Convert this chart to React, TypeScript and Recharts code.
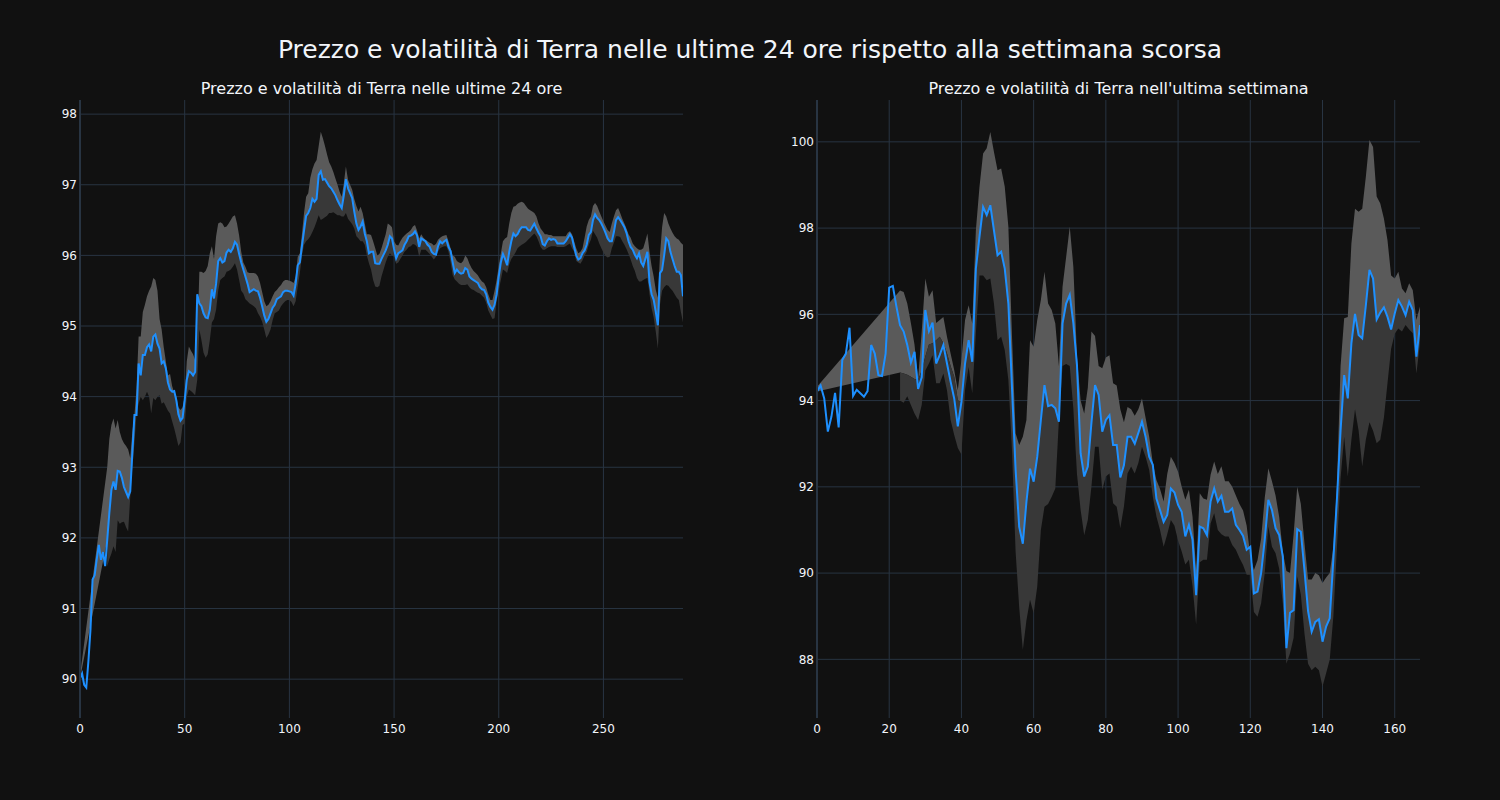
import { ComposedChart, Area, Line, XAxis, YAxis, CartesianGrid } from 'recharts'

// prezzo ogni 5 minuti, ultime 24 ore
const dayPrice = [
  90.01, 90.08, 89.92, 89.88, 90.25, 90.7, 91.41, 91.47, 91.7, 91.9,
  91.69, 91.8, 91.6, 91.97, 92.35, 92.68, 92.8, 92.68, 92.95, 92.94,
  92.85, 92.72, 92.65, 92.58, 92.66, 93.2, 93.74, 93.74, 94.47, 94.3,
  94.59, 94.59, 94.7, 94.74, 94.64, 94.85, 94.88, 94.75, 94.68, 94.47,
  94.5, 94.4, 94.2, 94.1, 94.07, 94.08, 93.95, 93.75, 93.66, 93.7,
  93.95, 94.24, 94.36, 94.34, 94.3, 94.35, 95.45, 95.32, 95.28, 95.18,
  95.12, 95.11, 95.23, 95.52, 95.39, 95.6, 95.92, 95.96, 95.9, 95.92,
  96.04, 96.08, 96.05, 96.1, 96.19, 96.15, 96.02, 95.9, 95.8, 95.7,
  95.6, 95.48, 95.5, 95.52, 95.5, 95.49, 95.4, 95.28, 95.15, 95.06,
  95.1, 95.18, 95.26, 95.3, 95.38, 95.4, 95.42, 95.48, 95.5, 95.5,
  95.49, 95.48, 95.43, 95.6, 95.86, 95.9, 96.13, 96.35, 96.56, 96.6,
  96.67, 96.8, 96.76, 96.8, 97.14, 97.19, 97.07, 97.08, 97.03, 96.98,
  96.95, 96.9, 96.85, 96.78, 96.72, 96.67, 96.85, 97.08, 96.95, 96.88,
  96.81, 96.62, 96.45, 96.36, 96.41, 96.48, 96.31, 96.2, 96.03, 96.05,
  96.05, 95.89, 95.88, 95.88, 95.95, 96.01, 96.07, 96.15, 96.27, 96.24,
  96.09, 95.96, 96.03, 96.05, 96.07, 96.15, 96.2, 96.27, 96.28, 96.3,
  96.34, 96.28, 96.12, 96.24, 96.22, 96.2, 96.15, 96.12, 96.05, 96.02,
  96.01, 96.13, 96.2, 96.17, 96.2, 96.22, 96.12, 96.06, 95.9, 95.75,
  95.8, 95.76, 95.74, 95.75, 95.82, 95.8, 95.7, 95.67, 95.65, 95.63,
  95.61, 95.55, 95.52, 95.51, 95.45, 95.33, 95.27, 95.23, 95.3, 95.45,
  95.7, 95.9, 96.02, 95.95, 95.86, 96.05, 96.2, 96.31, 96.27, 96.3,
  96.36, 96.4, 96.4, 96.4, 96.36, 96.35, 96.4, 96.45, 96.38, 96.32,
  96.27, 96.16, 96.14, 96.2, 96.24, 96.22, 96.23, 96.22, 96.17, 96.17,
  96.17, 96.17, 96.2, 96.25, 96.3, 96.25, 96.12, 96.0, 95.94, 95.96,
  96.03, 96.07, 96.15, 96.29, 96.33, 96.5, 96.58, 96.53, 96.5, 96.45,
  96.39, 96.32, 96.24, 96.2, 96.2, 96.33, 96.5, 96.54, 96.5, 96.45,
  96.4, 96.32, 96.2, 96.12, 96.08, 96.01, 95.96, 96.03, 95.9, 95.85,
  95.95, 96.05, 95.62, 95.45, 95.37, 95.2, 95.01, 95.75, 95.79, 96.0,
  96.24, 96.2, 96.05, 95.95, 95.85, 95.77, 95.77, 95.72, 95.42,
]

const dayUpper = [
  90.05, null, null, null, null, null, null, null, null, null, null, null, null,
  93.0, 93.4, 93.6, 93.69, 93.55, 93.67, 93.5,
  93.4, 93.34, 93.3, 93.25, 93.13, 93.5, 93.74, 94.12, 94.85, 94.85,
  95.2, 95.3, 95.42, 95.5, 95.56, 95.68, 95.65, 95.5, 95.1, 94.95,
  94.7, 94.5, 94.3, 94.32, 94.15, 94.05, 94.0, 93.85, 93.81, 93.85,
  94.0, 94.5, 94.71, 94.65, 94.6, 94.52, 94.76, 95.77, 95.77, 95.75,
  95.78, 95.85, 96.03, 96.13, 95.95, 96.27, 96.45, 96.47, 96.45, 96.4,
  96.41, 96.45, 96.5, 96.55, 96.57, 96.45, 96.28, 96.05, 95.9, 95.84,
  95.76, 95.75, 95.75, 95.75, 95.74, 95.7, 95.61, 95.48, 95.35, 95.28,
  95.3, 95.35, 95.42, 95.48, 95.51, 95.55, 95.58, 95.63, 95.65, 95.65,
  95.64, 95.63, 95.61, 95.7, 95.98, 96.03, 96.3, 96.6, 96.83, 96.88,
  97.1, 97.22, 97.3, 97.35, 97.55, 97.75, 97.66, 97.55, 97.43, 97.32,
  97.26, 97.18, 97.09, 97.0, 96.9, 96.83, 97.02, 97.26, 97.07, 97.0,
  96.93, 96.8, 96.7, 96.62, 96.69, 96.6, 96.45, 96.3, 96.3, 96.29,
  96.2, 96.1, 96.0, 96.02, 96.1, 96.2, 96.3, 96.45, 96.43, 96.4,
  96.2, 96.15, 96.14, 96.2, 96.25, 96.28, 96.31, 96.33, 96.36, 96.41,
  96.43, 96.35, 96.24, 96.3, 96.25, 96.22, 96.2, 96.18, 96.17, 96.14,
  96.16, 96.22, 96.25, 96.27, 96.28, 96.29, 96.2, 96.1, 96.0, 95.98,
  95.92, 95.9, 95.89, 95.92, 96.0, 95.96, 95.88, 95.82, 95.78, 95.75,
  95.72, 95.67, 95.63, 95.61, 95.55, 95.45, 95.37, 95.37, 95.5, 95.65,
  95.85, 96.03, 96.2, 96.24, 96.26, 96.45, 96.6, 96.69, 96.7, 96.73,
  96.75, 96.76, 96.74, 96.7, 96.66, 96.64, 96.62, 96.6, 96.55, 96.45,
  96.38, 96.34, 96.3, 96.3, 96.29, 96.29, 96.27, 96.27, 96.27, 96.27,
  96.27, 96.27, 96.27, 96.32, 96.34, 96.3, 96.2, 96.1, 96.03, 96.05,
  96.1, 96.25, 96.41, 96.5, 96.55, 96.7, 96.74, 96.7, 96.62, 96.55,
  96.48, 96.42, 96.36, 96.33, 96.45, 96.55, 96.64, 96.67, 96.6, 96.52,
  96.45, 96.38, 96.3, 96.25, 96.17, 96.13, 96.1, 96.08, 96.08, 96.1,
  96.2, 96.31, 96.05, 95.85, 95.7, 95.51, 95.4, 96.0, 96.4, 96.6,
  96.55, 96.45, 96.38, 96.32, 96.27, 96.24, 96.22, 96.18, 96.15,
]

const dayLower = [
  null, null, null, null, null, null, null, null, null, null, null, null, null,
  91.6, 91.7, 91.78, 91.88, 91.8, 92.25, 92.2,
  92.22, 92.23, 92.15, 92.09, 92.58, 93.0, 93.34, 93.76, 93.9, 94.0,
  93.95, 94.0, 94.07, 94.0, 93.76, 93.98, 93.95, 94.0, 94.02, 93.9,
  93.92, 93.86, 93.8, 93.76, 93.65, 93.55, 93.43, 93.3, 93.35, 93.6,
  93.62, 94.0, 94.1, 94.08, 94.05, 94.02, 94.24, 94.95, 94.8, 94.62,
  94.55, 94.6, 94.8, 95.05, 95.1, 95.23, 95.5, 95.65, 95.68, 95.7,
  95.77, 95.78, 95.8, 95.84, 95.89, 95.8, 95.65, 95.5, 95.46, 95.38,
  95.35, 95.32, 95.3, 95.28, 95.25, 95.18, 95.13, 95.06, 94.95, 94.83,
  94.88, 94.95, 95.08, 95.18, 95.2, 95.22, 95.28, 95.32, 95.35, 95.37,
  95.37, 95.34, 95.28, 95.35, 95.56, 95.75, 96.0, 96.15, 96.2, 96.23,
  96.27, 96.33, 96.4, 96.48, 96.57, 96.5, 96.52, 96.54, 96.56, 96.6,
  96.6, 96.61, 96.59, 96.57, 96.57, 96.55, 96.55, 96.6, 96.52, 96.48,
  96.44, 96.38, 96.27, 96.24, 96.2, 96.2, 96.15, 96.0, 95.89, 95.8,
  95.65, 95.56, 95.55, 95.57, 95.7, 95.8, 95.9, 95.98, 96.03, 96.0,
  95.98, 95.88, 95.9, 95.95, 96.0, 96.05, 96.08, 96.12, 96.13, 96.16,
  96.15, 96.12, 95.98, 96.08, 96.08, 96.08, 96.05, 96.02, 95.98, 95.94,
  95.98, 96.05, 96.1, 96.12, 96.13, 96.13, 96.05, 95.9, 95.72, 95.66,
  95.63, 95.6, 95.58, 95.58, 95.58, 95.59, 95.55, 95.52, 95.51, 95.49,
  95.47, 95.46, 95.43, 95.4, 95.33, 95.22, 95.16, 95.1, 95.11, 95.35,
  95.51, 95.65, 95.8, 95.78, 95.75, 95.87, 95.95, 95.99, 96.04, 96.1,
  96.13, 96.15, 96.17, 96.19, 96.22, 96.25, 96.28, 96.31, 96.27, 96.2,
  96.12, 96.08, 96.08, 96.1, 96.12, 96.13, 96.13, 96.13, 96.12, 96.12,
  96.12, 96.12, 96.13, 96.15, 96.17, 96.1, 96.05, 95.92, 95.9, 95.88,
  95.93, 96.0, 96.05, 96.15, 96.22, 96.35, 96.3, 96.25, 96.17, 96.1,
  96.04, 95.99, 95.97, 95.98, 96.1, 96.18, 96.27, 96.27, 96.26, 96.2,
  96.15, 96.09, 96.02, 95.94, 95.85, 95.78, 95.68, 95.63, 95.63, 95.65,
  95.67, 95.68, 95.45, 95.25, 95.12, 94.92, 94.68, 95.3, 95.5, 95.55,
  95.58, 95.57, 95.53, 95.5, 95.45, 95.4, 95.37, 95.2, 95.05,
]

// prezzo orario, ultima settimana
const weekPrice = [
  94.21, 94.35, 94.05, 93.28, 93.63, 94.18, 93.38, 94.94, 95.09, 95.69,
  94.11, 94.25, 94.17, 94.09, 94.22, 95.29, 95.09, 94.59, 94.57, 95.09,
  96.62, 96.66, 96.18, 95.75, 95.6, 95.29, 94.88, 95.13, 94.27, 94.54,
  96.1, 95.61, 95.81, 94.86, 95.06, 95.29, 94.86, 94.44, 94.05, 93.4,
  93.97, 94.86, 95.4, 94.9, 97.06, 97.8, 98.49, 98.3, 98.53, 97.95,
  97.37, 97.45, 97.06, 96.25, 94.3, 92.4, 91.07, 90.68, 91.65, 92.42,
  92.12, 92.7, 93.55, 94.36, 93.87, 93.9, 93.82, 93.51, 95.79, 96.25,
  96.45, 95.79, 94.82, 92.78, 92.24, 92.47, 93.48, 94.36, 94.13, 93.28,
  93.55, 93.66, 92.97, 92.97, 92.22, 92.5, 93.16, 93.16, 93.0, 93.25,
  93.51, 93.16, 92.7, 92.51, 91.73, 91.46, 91.19, 91.35, 91.96, 91.87,
  91.58, 91.42, 90.85, 91.12, 90.77, 89.49, 91.08, 91.04, 90.88, 91.66,
  91.96, 91.66, 91.79, 91.42, 91.42, 91.5, 91.12, 91.0, 90.86, 90.54,
  90.61, 89.53, 89.57, 90.0, 90.77, 91.7, 91.46, 91.04, 90.88, 90.38,
  88.26, 89.08, 89.14, 91.02, 90.96, 90.07, 89.12, 88.64, 88.87, 88.93,
  88.41, 88.76, 88.95, 90.31, 91.73, 93.3, 94.59, 94.05, 95.33, 96.01,
  95.52, 95.44, 96.21, 97.03, 96.83, 95.88, 96.04, 96.16, 95.94, 95.65,
  96.02, 96.33, 96.18, 95.98, 96.29, 96.1, 95.02, 95.75,
]

const weekUpper = [
  94.32, null, null, null, null, null, null, null, null, null, null,
  null, null, null, null, null, null, null, null, null, null, null, null,
  96.55, 96.52, 96.25, 95.8, 95.3, 94.5, 95.6,
  96.83, 96.41, 96.56, 95.8, 95.87, 95.94, 95.48, 95.09, 94.71, 94.24,
  94.94, 95.87, 96.21, 95.79, 97.95, 98.96, 99.73, 99.85, 100.23, 99.77,
  99.34, 99.38, 98.96, 98.03, 95.5, 93.24, 92.97, 93.16, 93.55, 95.4,
  95.25, 95.87, 96.33, 96.99, 96.25, 96.1, 95.79, 94.8, 96.64, 97.33,
  98.03, 97.1, 95.02, 94.0, 93.7, 94.3, 95.6, 95.5, 94.8, 94.75,
  95.0, 95.05, 94.4, 94.35, 93.8, 93.5, 93.85, 93.8, 93.65, 93.8,
  94.05, 93.6, 93.16, 92.55, 92.16, 91.95, 91.66, 92.3, 92.7, 92.55,
  92.35, 92.0, 91.7, 91.93, 91.31, 90.07, 91.85, 91.73, 91.7, 92.28,
  92.59, 92.3, 92.48, 92.13, 92.13, 92.0, 91.8, 91.6, 91.45, 91.1,
  90.4, 90.07, 90.3, 90.8, 91.75, 92.43, 92.13, 91.8, 91.3, 90.5,
  90.05, 90.0, 90.9, 92.0, 91.6, 90.7, 89.85, 89.85, 90.0, 89.95,
  89.77, 89.9, 90.0, 90.6, 92.0, 94.8, 95.91, 95.94, 97.64, 98.45,
  98.38, 98.45, 99.19, 100.04, 99.88, 98.73, 98.57, 98.22, 97.72, 96.9,
  96.83, 96.99, 96.6, 96.49, 96.72, 96.56, 95.87, 96.18,
]

const weekLower = [
  null, null, null, null, null, null, null, null, null, null, null, null,
  null, null, null, null, null, null, null, null, null, null, null,
  94.0, 93.95, 94.1, 93.9, 93.7, 93.55, 93.9,
  94.7, 94.86, 95.05, 94.4, 94.4, 94.63, 94.24, 93.55, 93.2, 92.9,
  92.75, 94.24, 94.78, 94.17, 95.56, 96.9, 96.9, 96.79, 96.83, 96.25,
  95.4, 95.48, 95.17, 94.48, 92.85, 90.5, 89.2, 88.22, 88.9, 89.38,
  89.07, 89.69, 91.0, 91.54, 91.6, 91.77, 91.96, 93.55, 94.8, 94.85,
  94.8, 93.8, 92.3, 91.47, 90.88, 91.23, 92.0, 92.93, 92.93, 91.93,
  92.24, 92.31, 91.62, 91.54, 91.04, 91.54, 92.31, 92.47, 92.31, 92.55,
  92.93, 92.7, 92.39, 91.77, 91.31, 91.0, 90.61, 90.9, 91.23, 91.1,
  90.75, 90.5, 90.2, 90.31, 89.7, 88.8, 90.25, 90.31, 90.31, 91.15,
  91.39, 91.0, 90.9, 90.85, 90.85, 90.65, 90.54, 90.35, 90.19, 89.96,
  89.96, 89.1, 88.99, 89.3, 90.0, 91.08, 90.61, 90.46, 90.1, 89.3,
  87.9, 88.14, 88.5, 89.92, 89.5, 88.6, 87.9, 87.75, 87.83, 87.75,
  87.37, 87.68, 87.99, 88.99, 90.61, 92.2, 93.16, 92.24, 93.09, 93.8,
  93.3, 92.47, 93.09, 93.5, 93.3, 93.01, 93.09, 93.6, 94.4, 95.2,
  95.55, 95.67, 95.6, 95.75, 95.65, 95.56, 94.63, 95.33,
]

// confine tra banda chiara e scura dove non coincide col prezzo (prime ore)
const weekMid = [
  null, null, null, null, null, null, null, null, null, null, null, null,
  null, null, null, null, null, null, null, null, null, null, null,
  94.65, 94.63, 94.6, 94.55, 94.5, 94.48, 94.7,
  95.02, 95.3, 95.33, 95.4, 95.48, 95.33, 95.1, 94.8, 94.55, 94.01,
]

const dayTicksX = [0, 50, 100, 150, 200, 250]
const dayTicksY = [90, 91, 92, 93, 94, 95, 96, 97, 98]
const weekTicksX = [0, 20, 40, 60, 80, 100, 120, 140, 160]
const weekTicksY = [88, 90, 92, 94, 96, 98, 100]

const FONT = '"DejaVu Sans", Verdana, sans-serif'
const TEXT = '#f2f5fa'
const GRID = '#283442'
const AXIS_W = 40
const AXIS_H = 30

function buildRows(
  price: number[],
  upper: (number | null)[],
  lower: (number | null)[],
  mid: (number | null)[] = [],
) {
  return price.map((p, i) => {
    const m = mid[i] ?? p
    return {
      x: i,
      price: p,
      light: upper[i] == null ? null : [i === 0 ? p : m, upper[i]],
      dark: lower[i] == null ? null : [lower[i], m],
    }
  })
}

interface PanelProps {
  rows: ReturnType<typeof buildRows>
  left: number
  width: number
  plotLeft: number
  plotRight: number
  xDomain: [number, number]
  yDomain: [number, number]
  xTicks: number[]
  yTicks: number[]
  title: string
}

function Panel({ rows, left, width, plotLeft, plotRight, xDomain, yDomain, xTicks, yTicks, title }: PanelProps) {
  const plotCenter = (plotLeft + plotRight) / 2
  const margin = { top: 100, right: width - plotRight, bottom: 82 - AXIS_H, left: plotLeft - AXIS_W }
  return (
    <div style={{ position: 'absolute', left, top: 0, width, height: 800 }}>
      <div
        style={{
          position: 'absolute', top: 79, left: plotCenter - 300, width: 600,
          textAlign: 'center', fontFamily: FONT, fontSize: 16, color: TEXT, lineHeight: '20px',
        }}
      >
        {title}
      </div>
      <ComposedChart width={width} height={800} data={rows} margin={margin}>
        <CartesianGrid stroke={GRID} strokeWidth={1} horizontalValues={yTicks} verticalValues={xTicks} />
        <XAxis
          type="number" dataKey="x" domain={xDomain} ticks={xTicks} allowDataOverflow
          height={AXIS_H} axisLine={false} tickLine={false} tickSize={0} tickMargin={6}
          tick={{ fill: TEXT, fontSize: 12, fontFamily: FONT }}
        />
        <YAxis
          type="number" domain={yDomain} ticks={yTicks} allowDataOverflow
          width={AXIS_W} axisLine={{ stroke: GRID, strokeWidth: 2 }} tickLine={false} tickSize={0} tickMargin={3}
          tick={{ fill: TEXT, fontSize: 12, fontFamily: FONT }}
        />
        <Area
          type="linear" dataKey="light" stroke="none" fill="#5a5a5a" fillOpacity={1}
          connectNulls isAnimationActive={false} dot={false} activeDot={false}
        />
        <Area
          type="linear" dataKey="dark" stroke="none" fill="#383838" fillOpacity={1}
          isAnimationActive={false} dot={false} activeDot={false}
        />
        <Line
          type="linear" dataKey="price" stroke="#1e90ff" strokeWidth={2}
          dot={false} activeDot={false} isAnimationActive={false}
        />
      </ComposedChart>
    </div>
  )
}

export default function App() {
  const dayRows = buildRows(dayPrice, dayUpper, dayLower)
  const weekRows = buildRows(weekPrice, weekUpper, weekLower, weekMid)
  return (
    <div style={{ position: 'absolute', left: 0, top: 0, width: 1500, height: 800, background: '#111111', overflow: 'hidden' }}>
      <div
        style={{
          position: 'absolute', top: 35, left: 0, width: 1500, textAlign: 'center',
          fontFamily: FONT, fontSize: 25, color: TEXT, lineHeight: '30px',
        }}
      >
        Prezzo e volatilità di Terra nelle ultime 24 ore rispetto alla settimana scorsa
      </div>
      <Panel
        rows={dayRows} left={0} width={700} plotLeft={80} plotRight={683}
        xDomain={[0, 288]} yDomain={[89.45, 98.2]} xTicks={dayTicksX} yTicks={dayTicksY}
        title="Prezzo e volatilità di Terra nelle ultime 24 ore"
      />
      <Panel
        rows={weekRows} left={700} width={800} plotLeft={117} plotRight={720}
        xDomain={[0, 167]} yDomain={[86.64, 100.97]} xTicks={weekTicksX} yTicks={weekTicksY}
        title="Prezzo e volatilità di Terra nell'ultima settimana"
      />
    </div>
  )
}
